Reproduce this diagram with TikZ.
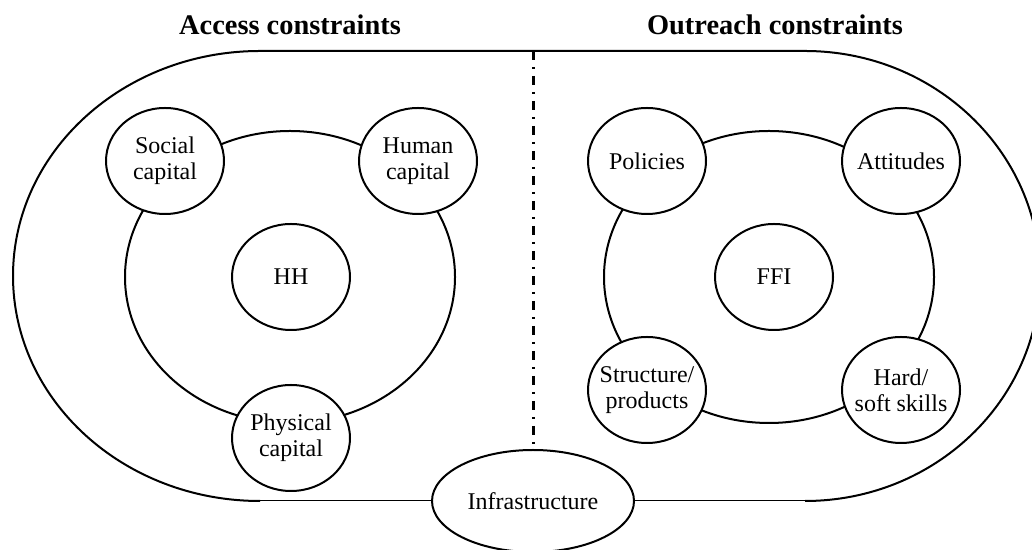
\documentclass[tikz,border=0pt]{standalone}
\usepackage{fontspec}
\setmainfont{Liberation Serif}
\usetikzlibrary{shapes.geometric}
\tikzset{
  bubble/.style={shape=ellipse, draw, fill=white, line width=1pt,
    minimum width=59pt, minimum height=53pt, inner xsep=-6pt, inner ysep=0pt,
    align=center, font=\fontsize{12pt}{13pt}\selectfont},
  bigbubble/.style={bubble, minimum width=101pt, minimum height=51pt},
  heading/.style={anchor=base, font=\fontsize{14.2pt}{16pt}\selectfont\bfseries},
  outline/.style={line width=1pt},
  ringline/.style={line width=1pt},
  thinline/.style={line width=0.5pt},
  divider/.style={line width=1.5pt, dash pattern=on 4.5pt off 3.5pt on 1pt off 3.5pt}
}
\begin{document}
\begin{tikzpicture}[x=0.5pt,y=0.5pt]
\clip (0,0) rectangle (1032,550);
% headings
\node[heading] (acc) at (290,515) {Access constraints};
\node[heading] (out) at (775,515) {Outreach constraints};
% outer rounded shape
\coordinate (lb) at (260,49);
\coordinate (rb) at (805,49);
\coordinate (dtop) at (533,499);
\draw[outline] (lb) arc[start angle=270, end angle=90, x radius=123.5pt, y radius=112.5pt]
  -- (805,499) arc[start angle=90, end angle=-90, x radius=117.5pt, y radius=112.5pt];
% rings
\draw[ringline] (290,273) ellipse[x radius=82.5pt, y radius=73pt];
\draw[ringline] (769,273) ellipse[x radius=82.5pt, y radius=73pt];
% left cluster
\node[bubble] (hh) at (291,273) {HH};
\node[bubble] (social) at (165,389) {Social\\capital};
\node[bubble] (human) at (418,389) {Human\\capital};
\node[bubble] (physical) at (291,112) {Physical\\capital};
% right cluster
\node[bubble] (ffi) at (774,273) {FFI};
\node[bubble] (policies) at (647,389) {Policies};
\node[bubble] (attitudes) at (901,389) {Attitudes};
\node[bubble] (structure) at (647,160) {Structure/\\products};
\node[bubble] (skills) at (901,160) {Hard/\\soft skills};
% infrastructure
\node[bigbubble] (infra) at (533,49) {Infrastructure};
\draw[thinline] (lb) -- (infra.west);
\draw[thinline] (infra.east) -- (rb);
\draw[divider] (dtop) -- (infra.north);
\end{tikzpicture}
\end{document}
